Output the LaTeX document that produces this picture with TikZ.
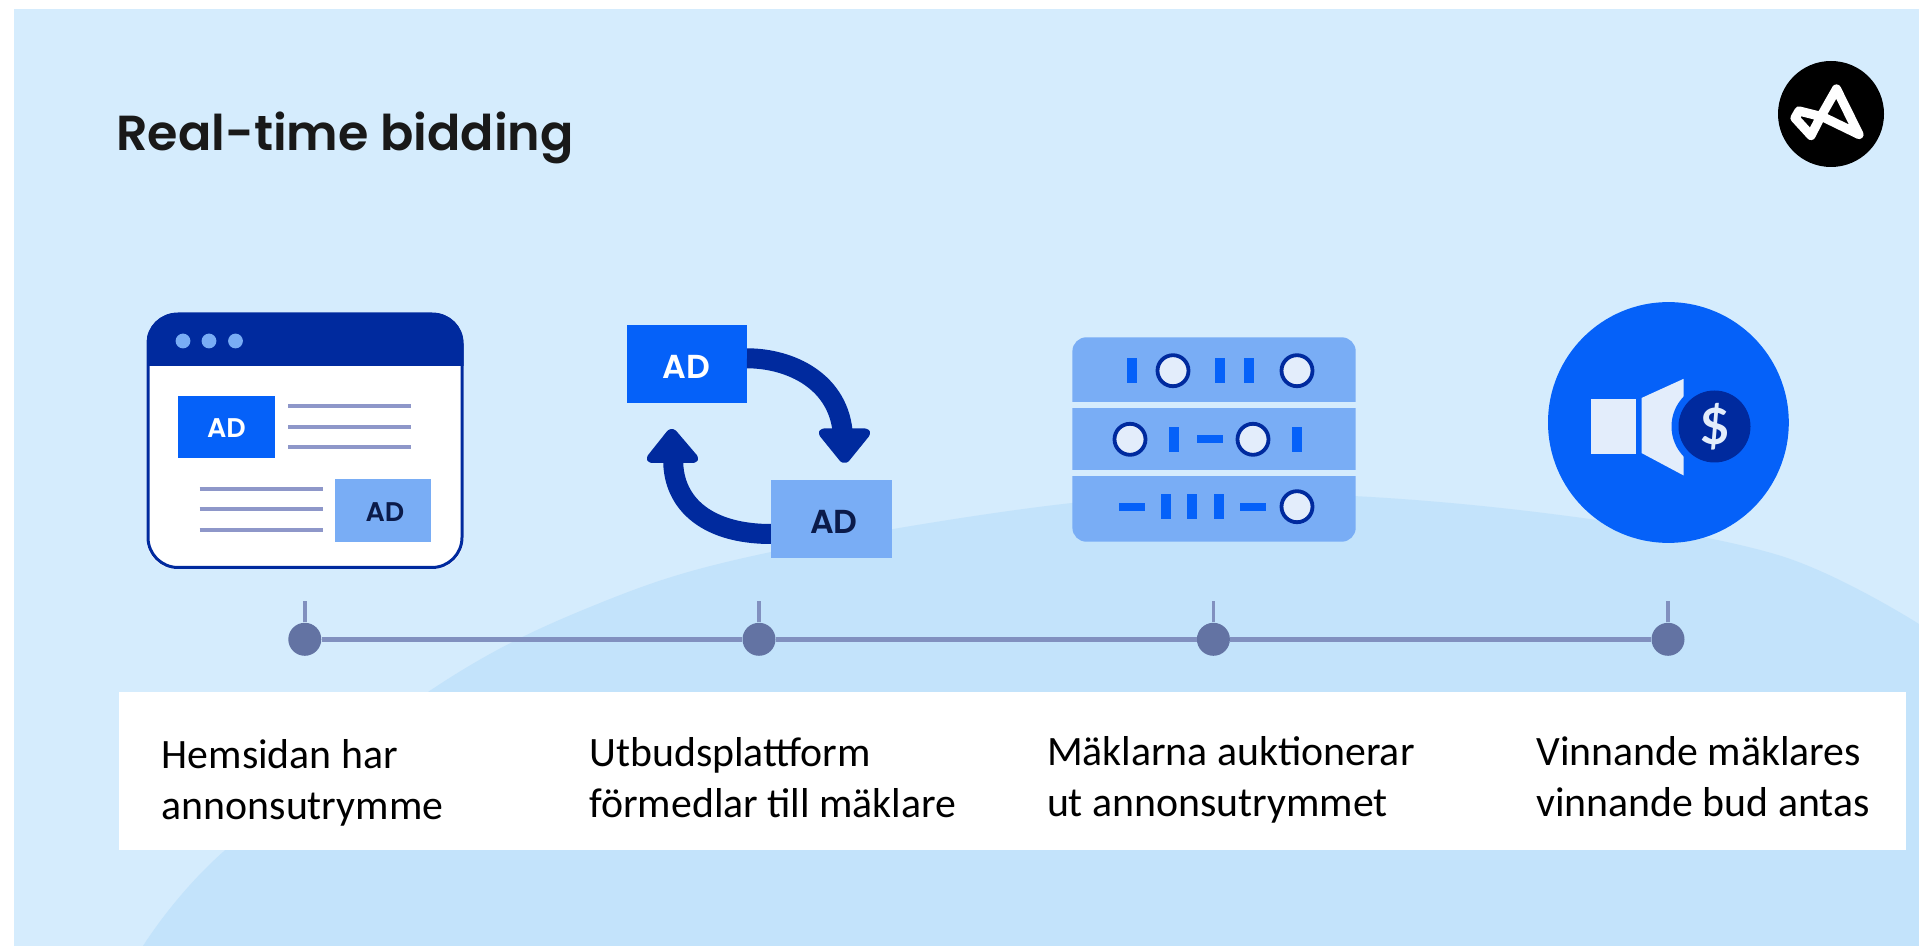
\documentclass[tikz,border=0pt]{standalone}
\usepackage{fontspec}
\setmainfont{Carlito}
\newfontfamily\titlefont{Poppins SemiBold}
\newfontfamily\dollarfont{Lato}[BoldFont={Lato Bold}]
\usetikzlibrary{calc}
\definecolor{panelbg}{HTML}{D5ECFD}
\definecolor{panellow}{HTML}{C3E3FB}
\definecolor{navy}{HTML}{002A9E}
\definecolor{brightblue}{HTML}{0561F9}
\definecolor{lightblue}{HTML}{79ADF5}
\definecolor{paleitem}{HTML}{E3EDFB}
\definecolor{rowline}{HTML}{8E97C9}
\definecolor{tline}{HTML}{8190BF}
\definecolor{tdot}{HTML}{6373A3}
\definecolor{inkdark}{HTML}{0B1B4A}
\tikzset{
  adsolid/.style={fill=brightblue,draw=none},
  adlight/.style={fill=lightblue,draw=none},
  adtext/.style={font=\titlefont\fontsize{#1}{#1}\selectfont,inner sep=0pt},
  adtext/.default=13.5pt,
  rowrule/.style={draw=rowline,line width=1.9pt},
  tdotstyle/.style={circle,fill=tdot,draw=none,minimum size=16.5pt,inner sep=0pt},
  tlinestyle/.style={draw=tline,line width=2.4pt},
  ttick/.style={draw=tline,line width=1.8pt},
  caption/.style={anchor=base west,align=left,inner sep=0pt,font=\fontsize{20.9pt}{25.5pt}\selectfont},
  srvbar/.style={fill=brightblue,draw=none,minimum width=5pt,minimum height=12.5pt,inner sep=0pt},
  srvdash/.style={fill=brightblue,draw=none,minimum width=13pt,minimum height=4pt,inner sep=0pt},
  srvdot/.style={circle,fill=paleitem,draw=navy,line width=1.9pt,minimum size=15.5pt,inner sep=0pt},
  cyclearrow/.style={draw=navy,line width=10pt},
  cyclehead/.style={fill=navy,draw=navy,line width=3.5pt,line join=round},
}
\begin{document}
\begin{tikzpicture}[x=0.5pt,y=-0.5pt]
\useasboundingbox (0,0) rectangle (1919,946);
\fill[white] (0,0) rectangle (1919,946);
% panel
\fill[panelbg] (14,9) rectangle (1919,946);
\fill[panellow] plot[smooth,tension=0.6] coordinates {(143,946) (223,852) (434,688) (600,603) (771,552) (1072,503) (1300,494) (1552,514) (1778,555) (1919,624)} -- (1919,946) -- cycle;
% title
\node[anchor=base west,inner sep=0pt,font=\titlefont\fontsize{24.6pt}{25pt}\selectfont,text=black!90] (title) at (116,150.5) {Real-time bidding};
% logo
\node[circle,fill=black,minimum size=53pt,inner sep=0pt] (logo) at (1831,114) {};
\draw[white,line width=4.6pt,line join=round] (1836.5,89) -- (1859,134.5) -- (1823,117) -- (1799,111) -- (1795,118) -- (1811,135.5) -- (1820,118) -- cycle;
% window icon
\fill[white,rounded corners=15pt] (146.5,313) rectangle (463.5,569);
\begin{scope}
  \clip[rounded corners=15pt] (146.5,313) rectangle (463.5,569);
  \fill[navy] (146.5,313) rectangle (463.5,366);
\end{scope}
\draw[navy,line width=1.5pt,rounded corners=15pt] (148,314) rectangle (462,567.5);
\foreach \dx in {183,209,235.5}{\fill[lightblue] (\dx,341) circle[radius=7.4];}
\node[adsolid,minimum width=48.75pt,minimum height=31.25pt,inner sep=0pt] (ad1) at (226.7,427.2) {};
\node[adtext,text=white] (ad1t) at (226.5,428.5) {AD};
\node[adlight,minimum width=48pt,minimum height=31.4pt,inner sep=0pt] (ad2) at (383,510.9) {};
\node[adtext,text=inkdark] (ad2t) at (385,512.5) {AD};
\foreach \ly in {405.7,426.7,447.4}{\draw[rowrule] (288,\ly) -- (411,\ly);}
\foreach \ly in {488.7,509.4,530}{\draw[rowrule] (199.6,\ly) -- (323,\ly);}
% cycle icon
\node[adsolid,minimum width=60.2pt,minimum height=39.2pt,inner sep=0pt] (ad3) at (687.2,364.2) {};
\node[adtext=16.6pt,text=white] (ad3t) at (686.7,366.7) {AD};
\draw[cyclearrow] (747,358.3) .. controls (790,358.3) and (840,381) .. (843,436);
\fill[cyclehead,rounded corners=1.5pt] (821,432) -- (868,432) -- (844.5,461) -- cycle;
\draw[cyclearrow] (771,534) .. controls (703,534) and (671,500) .. (673.3,456);
\fill[cyclehead,rounded corners=1.5pt] (649,459.5) -- (696,459.5) -- (671.7,431) -- cycle;
\node[adlight,minimum width=60.4pt,minimum height=39pt,inner sep=0pt] (ad4) at (831.1,519) {};
\node[adtext=16.6pt,text=inkdark] (ad4t) at (834,521.7) {AD};
% server icon
\fill[lightblue,rounded corners=7pt] (1072.4,337.3) rectangle (1355.7,541.7);
\fill[panelbg] (1072.4,402) rectangle (1355.7,408);
\fill[panelbg] (1072.4,470) rectangle (1355.7,476);
\node[srvbar] at (1131.7,370.7) {};
\node[srvdot] at (1173,370.7) {};
\node[srvbar] at (1220,370.7) {};
\node[srvbar] at (1249,370.7) {};
\node[srvdot] at (1297,370.7) {};
\node[srvdot] at (1130,439.3) {};
\node[srvbar] at (1174,439.3) {};
\node[srvdash] at (1209.7,439.3) {};
\node[srvdot] at (1253,439.3) {};
\node[srvbar] at (1297,439.3) {};
\node[srvdash] at (1131.7,506.7) {};
\node[srvbar] at (1165.6,506.7) {};
\node[srvbar] at (1192,506.7) {};
\node[srvbar] at (1219,506.7) {};
\node[srvdash] at (1253,506.7) {};
\node[srvdot] at (1297,506.7) {};
% speaker icon
\node[circle,fill=brightblue,minimum size=120.4pt,inner sep=0pt] (bigc) at (1668.4,422.5) {};
\fill[paleitem] (1591.4,399) rectangle (1636.4,454);
\fill[paleitem] (1641.5,398) -- (1683.7,378.8) -- (1683.7,475.5) -- (1641.5,453) -- cycle;
\fill[brightblue] (1714.5,426.5) circle[radius=43];
\node[circle,fill=navy,minimum size=36pt,inner sep=0pt,text=paleitem,font=\dollarfont\bfseries\fontsize{25pt}{25pt}\selectfont] (dollar) at (1714.5,426.5) {\$};
% timeline
\node[tdotstyle] (t1) at (304.8,639.3) {};
\node[tdotstyle] (t2) at (759,639.3) {};
\node[tdotstyle] (t3) at (1213.4,639.3) {};
\node[tdotstyle] (t4) at (1668,639.3) {};
\coordinate (k1) at (304.8,601);
\coordinate (k2) at (759,601);
\coordinate (k3) at (1213.4,601);
\coordinate (k4) at (1668,601);
\draw[tlinestyle] (t1) -- (t2);
\draw[tlinestyle] (t2) -- (t3);
\draw[tlinestyle] (t3) -- (t4);
\draw[ttick] (t1) -- (k1);
\draw[ttick] (t2) -- (k2);
\draw[ttick] (t3) -- (k3);
\draw[ttick] (t4) -- (k4);
% caption band
\fill[white] (118.6,692.3) rectangle (1905.6,850);
\node[caption] (c1) at (161.4,819.5) {Hemsidan har\\annonsutrymme};
\node[caption] (c2) at (589,817.5) {Utbudsplattform\\förmedlar till mäklare};
\node[caption] (c3) at (1046.6,816.5) {Mäklarna auktionerar\\ut annonsutrymmet};
\node[caption] (c4) at (1536,816.5) {Vinnande mäklares\\vinnande bud antas};
\end{tikzpicture}
\end{document}
